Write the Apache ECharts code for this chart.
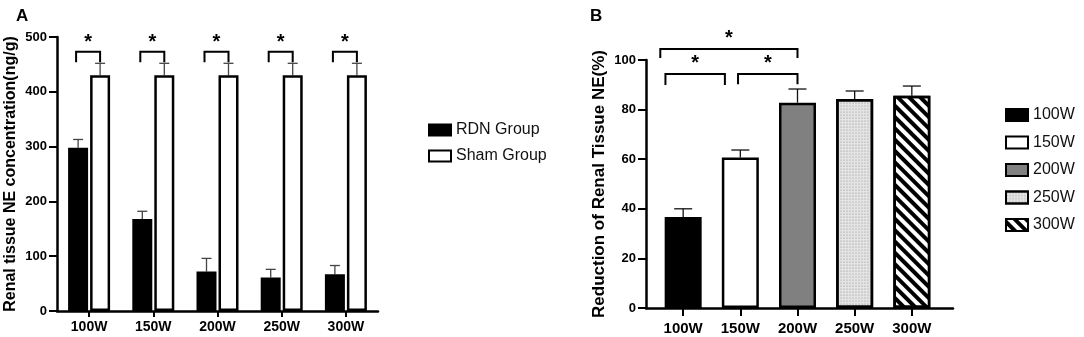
<!DOCTYPE html>
<html>
<head>
<meta charset="utf-8">
<script src="https://cdn.jsdelivr.net/npm/echarts@6/dist/echarts.min.js"></script>
<style>
  html, body { margin: 0; padding: 0; background: #fff; }
  #main { width: 1084px; height: 337px; }
</style>
</head>
<body>
<div id="main"></div>
<script>
// ---- panel A: NE concentration, RDN vs sham ----
const categoriesA = ['100W', '150W', '200W', '250W', '300W'];
const rdnValues = [298, 168, 72, 61, 67];
const rdnErrTop = [313, 182, 96, 76, 83];
const shamValues = [430, 430, 430, 430, 430];
const shamErrTop = [452, 452, 452, 452, 452];
const ticksA = [0, 100, 200, 300, 400, 500];
// significance bracket per group (data units)
const bracketA = { top: 473, leg: 454, star: 490 };

// ---- panel B: reduction of NE ----
const categoriesB = ['100W', '150W', '200W', '250W', '300W'];
const reductionValues = [36.7, 60.7, 82.8, 84.3, 85.6];
const reductionErrTop = [40.0, 63.7, 88.3, 87.5, 89.5];
const ticksB = [0, 20, 40, 60, 80, 100];
const comparisonsB = [
    { from: -0.40, to: 2.0, top: 104.4, leg: 100.8, star: 108.6 },
    { from: -0.31, to: 0.73, top: 94.4, leg: 89.9, star: 98.6 },
    { from: 0.96, to: 2.0, top: 94.4, leg: 90.2, star: 98.6 }
];

const FONT = "'Liberation Sans', Arial, sans-serif";
const BAR_A = 20;
const GAP_A = 2;
const OFF_A = (BAR_A + GAP_A) / 2;
const BAR_B = 37;

const fillsB = [
    { color: '#000' },
    { color: '#fff' },
    { color: '#808080' },
    { color: '#e4e4e4', decal: { symbol: 'circle', symbolSize: 0.6, color: '#8a8a8a', dashArrayX: [2, 1], dashArrayY: [2, 1] } },
    { color: '#fff', decal: { symbol: 'rect', color: '#000', dashArrayX: [1, 0], dashArrayY: [3.5, 3.5], rotation: Math.PI / 4 } }
];

const chartDom = document.getElementById('main');
const myChart = echarts.init(chartDom, null, { renderer: 'canvas' });

function axisCommon() {
    return {
        axisLine: { show: true, onZero: false, lineStyle: { color: '#000', width: 2.5 } },
        axisTick: { show: true, length: 8, lineStyle: { color: '#000', width: 2 } },
        splitLine: { show: false }
    };
}

function errBar(capW, color, offset) {
    return function (params, api) {
        const base = api.coord([api.value(0), api.value(1)]);
        const top = api.coord([api.value(0), api.value(2)]);
        const x = base[0] + offset;
        return {
            type: 'group',
            children: [
                { type: 'line', shape: { x1: x, y1: base[1], x2: x, y2: top[1] }, style: { stroke: color, lineWidth: 1.3 } },
                { type: 'line', shape: { x1: x - capW / 2, y1: top[1], x2: x + capW / 2, y2: top[1] }, style: { stroke: color, lineWidth: 1.3 } }
            ]
        };
    };
}

function bracket(x1, x2, yTop, yLeg, yStar) {
    return {
        type: 'group',
        children: [
            { type: 'polyline', shape: { points: [[x1, yLeg], [x1, yTop], [x2, yTop], [x2, yLeg]] }, style: { stroke: '#000', lineWidth: 2, fill: null } },
            { type: 'text', style: { text: '*', x: (x1 + x2) / 2, y: yStar, align: 'center', verticalAlign: 'middle', font: 'bold 20px ' + FONT, fill: '#000' } }
        ]
    };
}

const option = {
    animation: false,
    backgroundColor: '#fff',
    title: [
        { text: 'A', left: 11, top: 3, textStyle: { fontFamily: FONT, fontWeight: 'bold', fontSize: 17, color: '#000' } },
        { text: 'B', left: 585, top: 3, textStyle: { fontFamily: FONT, fontWeight: 'bold', fontSize: 17, color: '#000' } }
    ],
    legend: [
        {
            data: ['RDN Group', 'Sham Group'],
            orient: 'vertical', left: 423, top: 117,
            icon: 'rect',
            itemWidth: 22, itemHeight: 11, itemGap: 10,
            textStyle: { fontFamily: FONT, fontSize: 16, color: '#111' }
        },
        {
            data: categoriesB,
            orient: 'vertical', left: 1000, top: 102,
            icon: 'rect',
            itemWidth: 22, itemHeight: 12, itemGap: 11.5,
            textStyle: { fontFamily: FONT, fontSize: 16, color: '#111' }
        }
    ],
    grid: [
        { left: 57, top: 37, width: 321, height: 274 },
        { left: 646, top: 60, width: 307, height: 248 }
    ],
    xAxis: [
        Object.assign(axisCommon(), {
            gridIndex: 0,
            type: 'category',
            data: categoriesA,
            axisTick: { show: true, alignWithLabel: true, length: 6, lineStyle: { color: '#000', width: 2 } },
            axisLabel: { fontFamily: FONT, fontWeight: 'bold', fontSize: 14, color: '#000', margin: 9 }
        }),
        Object.assign(axisCommon(), {
            gridIndex: 1,
            type: 'value',
            min: -0.65,
            max: 4.72,
            axisTick: { show: true, length: 8, customValues: [0, 1, 2, 3, 4], lineStyle: { color: '#000', width: 2 } },
            axisLabel: {
                customValues: [0, 1, 2, 3, 4],
                formatter: v => categoriesB[v],
                fontFamily: FONT, fontWeight: 'bold', fontSize: 15, color: '#000', margin: 13
            }
        })
    ],
    yAxis: [
        Object.assign(axisCommon(), {
            gridIndex: 0,
            type: 'value',
            min: ticksA[0],
            max: ticksA[ticksA.length - 1],
            interval: ticksA[1] - ticksA[0],
            name: 'Renal tissue NE concentration(ng/g)',
            nameLocation: 'middle',
            nameGap: 38,
            nameTextStyle: { fontFamily: FONT, fontWeight: 'bold', fontSize: 16, color: '#000' },
            axisLabel: { fontFamily: FONT, fontWeight: 'bold', fontSize: 13, color: '#000', margin: 10 }
        }),
        Object.assign(axisCommon(), {
            gridIndex: 1,
            type: 'value',
            min: ticksB[0],
            max: ticksB[ticksB.length - 1],
            interval: ticksB[1] - ticksB[0],
            name: 'Reduction of Renal Tissue NE(%)',
            nameLocation: 'middle',
            nameGap: 38,
            nameTextStyle: { fontFamily: FONT, fontWeight: 'bold', fontSize: 17, color: '#000' },
            axisLabel: { fontFamily: FONT, fontWeight: 'bold', fontSize: 13, color: '#000', margin: 10 }
        })
    ],
    series: [
        {
            name: 'RDN Group', type: 'bar', xAxisIndex: 0, yAxisIndex: 0,
            data: rdnValues, barWidth: BAR_A, barGap: '10%',
            itemStyle: { color: '#000', borderColor: '#000', borderWidth: 2 }
        },
        {
            name: 'Sham Group', type: 'bar', xAxisIndex: 0, yAxisIndex: 0,
            data: shamValues, barWidth: BAR_A, barGap: '10%',
            itemStyle: { color: '#fff', borderColor: '#000', borderWidth: 2.5 }
        },
        {
            type: 'custom', xAxisIndex: 0, yAxisIndex: 0, silent: true, z: 1,
            data: rdnValues.map((v, i) => [i, v, rdnErrTop[i]]),
            renderItem: errBar(10, '#444', -OFF_A)
        },
        {
            type: 'custom', xAxisIndex: 0, yAxisIndex: 0, silent: true, z: 1,
            data: shamValues.map((v, i) => [i, v, shamErrTop[i]]),
            renderItem: errBar(10, '#444', OFF_A)
        },
        {
            type: 'custom', xAxisIndex: 0, yAxisIndex: 0, silent: true,
            data: categoriesA.map((c, i) => [i]),
            renderItem: function (params, api) {
                const t = api.coord([api.value(0), bracketA.top]);
                const l = api.coord([api.value(0), bracketA.leg]);
                const s = api.coord([api.value(0), bracketA.star]);
                return bracket(t[0] - OFF_A - 2, t[0] + OFF_A, t[1], l[1], s[1]);
            }
        }
    ].concat(categoriesB.map((name, i) => ({
        name: name, type: 'bar', xAxisIndex: 1, yAxisIndex: 1,
        data: [[i, reductionValues[i]]], barWidth: BAR_B, barGap: '-100%',
        itemStyle: Object.assign({ borderColor: '#000', borderWidth: 2.5 }, fillsB[i])
    }))).concat([
        {
            type: 'custom', xAxisIndex: 1, yAxisIndex: 1, silent: true, z: 1,
            data: reductionValues.map((v, i) => [i, v, reductionErrTop[i]]),
            renderItem: errBar(18, '#111', 0)
        },
        {
            type: 'custom', xAxisIndex: 1, yAxisIndex: 1, silent: true,
            data: comparisonsB.map(c => [c.from, c.to, c.top, c.leg, c.star]),
            renderItem: function (params, api) {
                const a = api.coord([api.value(0), api.value(2)]);
                const b = api.coord([api.value(1), api.value(3)]);
                const s = api.coord([api.value(0), api.value(4)]);
                return bracket(a[0], b[0], a[1], b[1], s[1]);
            }
        }
    ])
};

option && myChart.setOption(option);
</script>
</body>
</html>
